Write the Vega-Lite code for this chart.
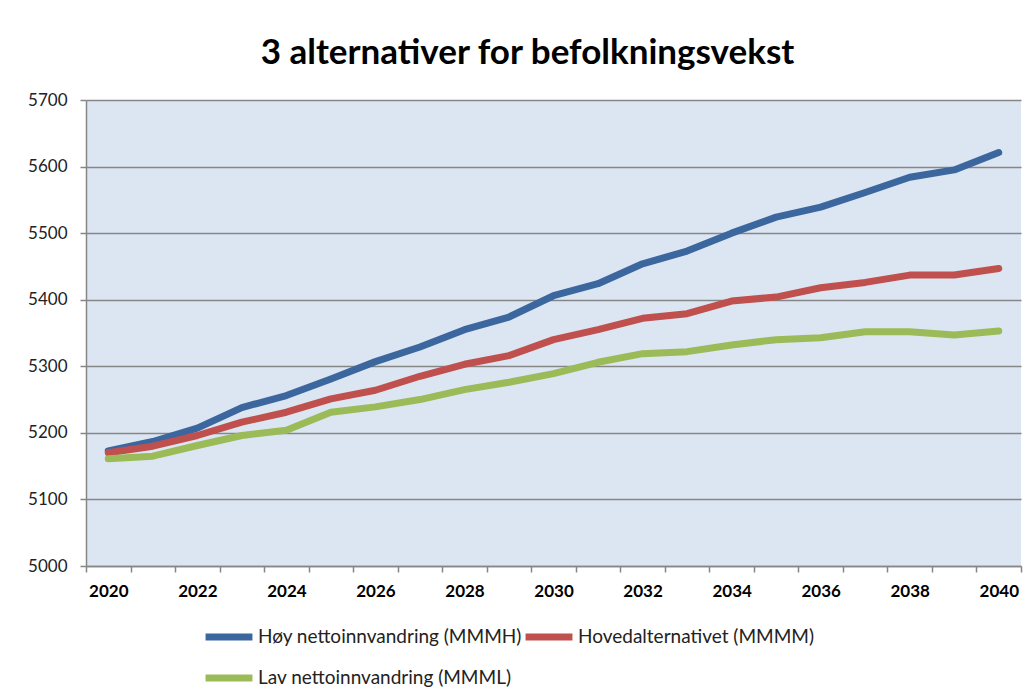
{
  "$schema": "https://vega.github.io/schema/vega-lite/v6.json",
  "width": 935,
  "height": 466,
  "autosize": {"type": "none"},
  "padding": {"left": 86, "top": 100, "right": 8, "bottom": 131},
  "background": "white",
  "title": {
    "text": "3 alternativer for befolkningsvekst",
    "font": "Lato",
    "fontSize": 35,
    "fontWeight": "bold",
    "color": "#000000",
    "frame": "group",
    "anchor": "middle",
    "baseline": "alphabetic",
    "offset": -8,
    "dx": -26
  },
  "config": {
    "view": {"fill": "#DCE6F2", "stroke": null},
    "font": "Lato"
  },
  "data": {
    "values": [
      {"year": 2020, "series": "Høy nettoinnvandring (MMMH)", "value": 5173},
      {"year": 2021, "series": "Høy nettoinnvandring (MMMH)", "value": 5187},
      {"year": 2022, "series": "Høy nettoinnvandring (MMMH)", "value": 5207},
      {"year": 2023, "series": "Høy nettoinnvandring (MMMH)", "value": 5238},
      {"year": 2024, "series": "Høy nettoinnvandring (MMMH)", "value": 5256},
      {"year": 2025, "series": "Høy nettoinnvandring (MMMH)", "value": 5281},
      {"year": 2026, "series": "Høy nettoinnvandring (MMMH)", "value": 5307},
      {"year": 2027, "series": "Høy nettoinnvandring (MMMH)", "value": 5329},
      {"year": 2028, "series": "Høy nettoinnvandring (MMMH)", "value": 5355},
      {"year": 2029, "series": "Høy nettoinnvandring (MMMH)", "value": 5374},
      {"year": 2030, "series": "Høy nettoinnvandring (MMMH)", "value": 5406},
      {"year": 2031, "series": "Høy nettoinnvandring (MMMH)", "value": 5424},
      {"year": 2032, "series": "Høy nettoinnvandring (MMMH)", "value": 5454},
      {"year": 2033, "series": "Høy nettoinnvandring (MMMH)", "value": 5473},
      {"year": 2034, "series": "Høy nettoinnvandring (MMMH)", "value": 5500},
      {"year": 2035, "series": "Høy nettoinnvandring (MMMH)", "value": 5524},
      {"year": 2036, "series": "Høy nettoinnvandring (MMMH)", "value": 5539},
      {"year": 2037, "series": "Høy nettoinnvandring (MMMH)", "value": 5561},
      {"year": 2038, "series": "Høy nettoinnvandring (MMMH)", "value": 5584},
      {"year": 2039, "series": "Høy nettoinnvandring (MMMH)", "value": 5595},
      {"year": 2040, "series": "Høy nettoinnvandring (MMMH)", "value": 5621},
      {"year": 2020, "series": "Hovedalternativet (MMMM)", "value": 5170},
      {"year": 2021, "series": "Hovedalternativet (MMMM)", "value": 5180},
      {"year": 2022, "series": "Hovedalternativet (MMMM)", "value": 5196},
      {"year": 2023, "series": "Hovedalternativet (MMMM)", "value": 5216},
      {"year": 2024, "series": "Hovedalternativet (MMMM)", "value": 5231},
      {"year": 2025, "series": "Hovedalternativet (MMMM)", "value": 5251},
      {"year": 2026, "series": "Hovedalternativet (MMMM)", "value": 5264},
      {"year": 2027, "series": "Hovedalternativet (MMMM)", "value": 5285},
      {"year": 2028, "series": "Hovedalternativet (MMMM)", "value": 5303},
      {"year": 2029, "series": "Hovedalternativet (MMMM)", "value": 5316},
      {"year": 2030, "series": "Hovedalternativet (MMMM)", "value": 5340},
      {"year": 2031, "series": "Hovedalternativet (MMMM)", "value": 5355},
      {"year": 2032, "series": "Hovedalternativet (MMMM)", "value": 5372},
      {"year": 2033, "series": "Hovedalternativet (MMMM)", "value": 5379},
      {"year": 2034, "series": "Hovedalternativet (MMMM)", "value": 5398},
      {"year": 2035, "series": "Hovedalternativet (MMMM)", "value": 5404},
      {"year": 2036, "series": "Hovedalternativet (MMMM)", "value": 5418},
      {"year": 2037, "series": "Hovedalternativet (MMMM)", "value": 5426},
      {"year": 2038, "series": "Hovedalternativet (MMMM)", "value": 5437},
      {"year": 2039, "series": "Hovedalternativet (MMMM)", "value": 5437},
      {"year": 2040, "series": "Hovedalternativet (MMMM)", "value": 5447},
      {"year": 2020, "series": "Lav nettoinnvandring (MMML)", "value": 5161},
      {"year": 2021, "series": "Lav nettoinnvandring (MMML)", "value": 5165},
      {"year": 2022, "series": "Lav nettoinnvandring (MMML)", "value": 5181},
      {"year": 2023, "series": "Lav nettoinnvandring (MMML)", "value": 5196},
      {"year": 2024, "series": "Lav nettoinnvandring (MMML)", "value": 5204},
      {"year": 2025, "series": "Lav nettoinnvandring (MMML)", "value": 5231},
      {"year": 2026, "series": "Lav nettoinnvandring (MMML)", "value": 5239},
      {"year": 2027, "series": "Lav nettoinnvandring (MMML)", "value": 5250},
      {"year": 2028, "series": "Lav nettoinnvandring (MMML)", "value": 5265},
      {"year": 2029, "series": "Lav nettoinnvandring (MMML)", "value": 5276},
      {"year": 2030, "series": "Lav nettoinnvandring (MMML)", "value": 5289},
      {"year": 2031, "series": "Lav nettoinnvandring (MMML)", "value": 5306},
      {"year": 2032, "series": "Lav nettoinnvandring (MMML)", "value": 5319},
      {"year": 2033, "series": "Lav nettoinnvandring (MMML)", "value": 5322},
      {"year": 2034, "series": "Lav nettoinnvandring (MMML)", "value": 5332},
      {"year": 2035, "series": "Lav nettoinnvandring (MMML)", "value": 5340},
      {"year": 2036, "series": "Lav nettoinnvandring (MMML)", "value": 5343},
      {"year": 2037, "series": "Lav nettoinnvandring (MMML)", "value": 5352},
      {"year": 2038, "series": "Lav nettoinnvandring (MMML)", "value": 5352},
      {"year": 2039, "series": "Lav nettoinnvandring (MMML)", "value": 5347},
      {"year": 2040, "series": "Lav nettoinnvandring (MMML)", "value": 5353}
    ]
  },
  "mark": {"type": "line", "strokeWidth": 7, "strokeCap": "round", "strokeJoin": "round"},
  "encoding": {
    "x": {
      "field": "year",
      "type": "quantitative",
      "scale": {"domain": [2019.5, 2040.5], "nice": false, "zero": false},
      "axis": {
        "title": null,
        "values": [2019.5, 2020.5, 2021.5, 2022.5, 2023.5, 2024.5, 2025.5, 2026.5, 2027.5, 2028.5, 2029.5, 2030.5, 2031.5, 2032.5, 2033.5, 2034.5, 2035.5, 2036.5, 2037.5, 2038.5, 2039.5, 2040.5],
        "labelExpr": "datum.value % 2 == 1.5 ? format(datum.value + 0.5, 'd') : ''",
        "labelOffset": 22.3,
        "labelOverlap": false,
        "labelFlush": false,
        "labelBound": false,
        "labelFont": "Lato",
        "labelFontSize": 17,
        "labelFontWeight": "bold",
        "labelColor": "#000000",
        "labelPadding": 11,
        "grid": false,
        "domainColor": "#868686",
        "domainWidth": 1.5,
        "tickColor": "#868686",
        "tickWidth": 1.5,
        "tickSize": 6
      }
    },
    "y": {
      "field": "value",
      "type": "quantitative",
      "scale": {"domain": [5000, 5700], "nice": false, "zero": false},
      "axis": {
        "title": null,
        "values": [5000, 5100, 5200, 5300, 5400, 5500, 5600, 5700],
        "format": "d",
        "labelFont": "Lato",
        "labelFontSize": 17,
        "labelColor": "#222222",
        "labelPadding": 13,
        "labelOverlap": false,
        "grid": true,
        "gridColor": "#868686",
        "gridWidth": 1.5,
        "domainColor": "#868686",
        "domainWidth": 1.5,
        "tickColor": "#868686",
        "tickWidth": 1.5,
        "tickSize": 6
      }
    },
    "color": {
      "field": "series",
      "type": "nominal",
      "sort": null,
      "scale": {
        "domain": ["Høy nettoinnvandring (MMMH)", "Hovedalternativet (MMMM)", "Lav nettoinnvandring (MMML)"],
        "range": ["#3B679E", "#C0504D", "#9BBB59"]
      },
      "legend": {
        "title": null,
        "orient": "none",
        "legendX": 116,
        "legendY": 510,
        "direction": "horizontal",
        "columns": 2,
        "padding": 0,
        "symbolType": "stroke",
        "symbolSize": 2200,
        "symbolStrokeWidth": 7,
        "labelFont": "Lato",
        "labelFontSize": 19,
        "labelColor": "#222222",
        "labelOffset": 2,
        "labelLimit": 400,
        "columnPadding": -12,
        "rowPadding": -2
      }
    }
  }
}
